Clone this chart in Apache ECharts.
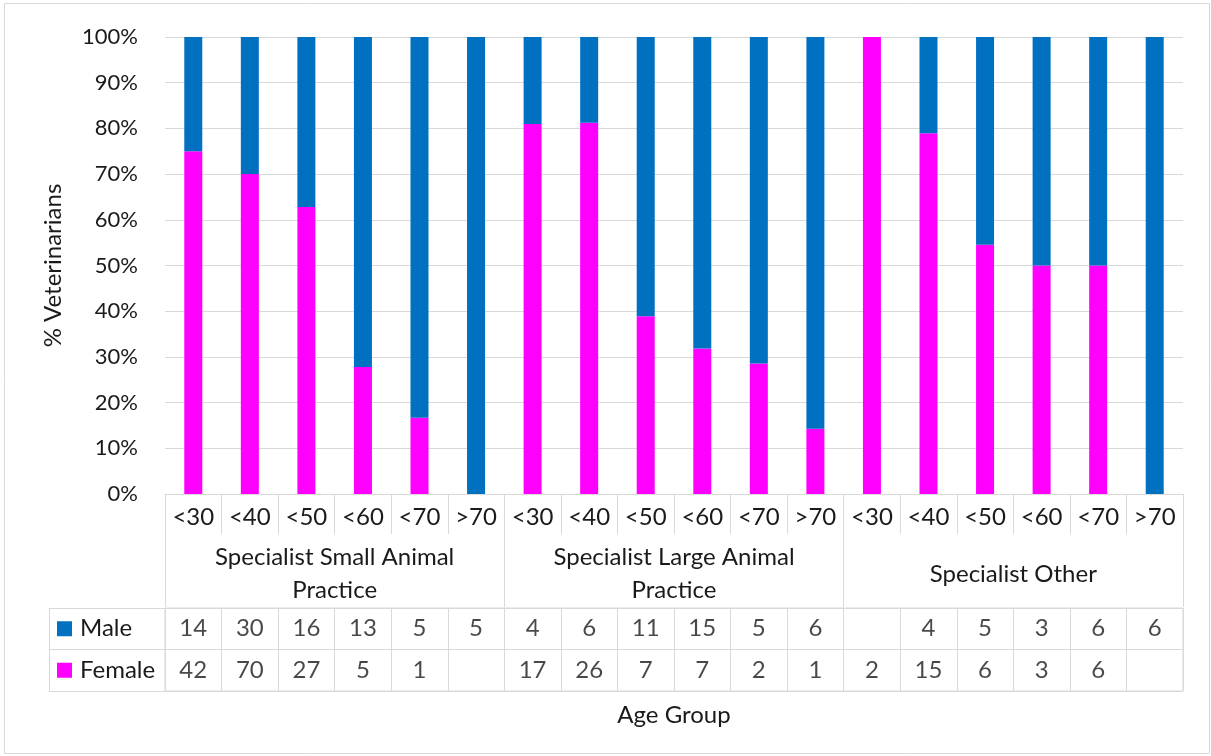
<!DOCTYPE html>
<html>
<head>
<meta charset="utf-8">
<script src="https://cdn.jsdelivr.net/npm/echarts@6/dist/echarts.min.js"></script>
<style>
  html, body { margin: 0; padding: 0; background: #fff; }
  #chart { width: 1211px; height: 756px; }
</style>
</head>
<body>
<div id="chart"></div>
<script>
// Specialist veterinarians by age group and gender
const AGE_GROUPS = ['<30', '<40', '<50', '<60', '<70', '>70'];
const SPECIALTIES = ['Specialist Small Animal\nPractice', 'Specialist Large Animal\nPractice', 'Specialist Other'];
const MALE_COUNTS   = [14, 30, 16, 13, 5, 5,   4, 6, 11, 15, 5, 6,   null, 4, 5, 3, 6, 6];
const FEMALE_COUNTS = [42, 70, 27, 5, 1, null,  17, 26, 7, 7, 2, 1,   2, 15, 6, 3, 6, null];
const ROW_NAMES = ['Male', 'Female'];
const Y_TICKS = { min: 0, max: 100, interval: 10 };

const MALE_COLOR = '#0070c0';
const FEMALE_COLOR = '#ff00ff';
const LINE = '#d9d9d9';
const TEXT = '#1a1a1a';
const FONT = 'Lato';
const FS = 24;
const FS_Y = 22;

// one category per (specialty, age) pair
const categories = [];
SPECIALTIES.forEach(() => AGE_GROUPS.forEach(a => categories.push(a)));

// 100% stacked shares
const total = (i) => (MALE_COUNTS[i] || 0) + (FEMALE_COUNTS[i] || 0);
const femalePct = FEMALE_COUNTS.map((v, i) => (v ? v / total(i) * 100 : 0));
const malePct = MALE_COUNTS.map((v, i) => (v ? v / total(i) * 100 : 0));

// table cells: [column, row, count]
const cells = [];
[MALE_COUNTS, FEMALE_COUNTS].forEach((arr, r) => {
  arr.forEach((v, i) => { if (v != null) cells.push([i, r, v]); });
});

const chart = echarts.init(document.getElementById('chart'), null, { renderer: 'canvas' });

const textStyle = { fontFamily: FONT, fontSize: FS, color: TEXT };

chart.setOption({
  animation: false,
  backgroundColor: '#fff',
  textStyle: { fontFamily: FONT },
  graphic: [{
    type: 'rect',
    shape: { x: 4.5, y: 3.5, width: 1205, height: 750 },
    style: { fill: 'none', stroke: LINE, lineWidth: 1 },
    silent: true
  }],
  grid: [
    { left: 165, right: 28, top: 37, bottom: 262, containLabel: false },
    { left: 165, right: 28, top: 608, height: 83, show: true, borderColor: LINE, borderWidth: 1, backgroundColor: 'transparent' }
  ],
  xAxis: [
    {
      gridIndex: 0, type: 'category', data: categories, position: 'bottom',
      axisLine: { show: true, lineStyle: { color: LINE, width: 1 } },
      axisTick: { show: true, interval: 0, length: 40, lineStyle: { color: LINE } },
      axisLabel: { interval: 0, margin: 23, verticalAlign: 'middle', ...textStyle }
    },
    {
      gridIndex: 0, type: 'category', data: SPECIALTIES, position: 'bottom',
      axisLine: { show: false },
      axisTick: { show: true, interval: 0, length: 113, lineStyle: { color: LINE } },
      axisLabel: { interval: 0, margin: 80, verticalAlign: 'middle', lineHeight: 33, ...textStyle }
    },
    {
      gridIndex: 1, type: 'category', data: categories, position: 'bottom',
      axisLine: { show: false }, axisTick: { show: false }, axisLabel: { show: false },
      splitLine: { show: true, interval: 0, lineStyle: { color: LINE, width: 1 } },
      name: 'Age Group', nameLocation: 'middle', nameGap: 24,
      nameTextStyle: { ...textStyle, verticalAlign: 'middle' }
    }
  ],
  yAxis: [
    {
      gridIndex: 0, type: 'value', ...Y_TICKS,
      axisLine: { show: false }, axisTick: { show: false },
      axisLabel: { formatter: '{value}%', margin: 27, ...textStyle, fontSize: FS_Y },
      splitLine: { show: true, lineStyle: { color: LINE, width: 1 } },
      name: '% Veterinarians', nameLocation: 'middle', nameGap: 100, nameRotate: 90,
      nameTextStyle: { ...textStyle }
    },
    {
      gridIndex: 1, type: 'category', data: ROW_NAMES, inverse: true, position: 'left',
      axisLine: { show: false },
      axisTick: { show: true, interval: 0, length: 116, lineStyle: { color: LINE } },
      splitLine: { show: true, interval: 0, lineStyle: { color: LINE, width: 1 } },
      axisLabel: {
        interval: 0, align: 'left', margin: 108,
        formatter: (v) => (v === 'Male' ? '{m|}{s|}{t|Male}' : '{f|}{s|}{t|Female}'),
        rich: {
          m: { width: 15, height: 15, backgroundColor: MALE_COLOR },
          f: { width: 15, height: 15, backgroundColor: FEMALE_COLOR },
          s: { width: 8 },
          t: { ...textStyle }
        }
      }
    },
    {
      gridIndex: 1, type: 'category', data: ROW_NAMES, inverse: true, position: 'left', offset: 116,
      axisLine: { show: true, lineStyle: { color: LINE, width: 1 } },
      axisTick: { show: false }, axisLabel: { show: false }, splitLine: { show: false }
    }
  ],
  series: [
    {
      name: 'Female', type: 'bar', stack: 'share', xAxisIndex: 0, yAxisIndex: 0,
      data: femalePct, barWidth: 18, itemStyle: { color: FEMALE_COLOR }
    },
    {
      name: 'Male', type: 'bar', stack: 'share', xAxisIndex: 0, yAxisIndex: 0,
      data: malePct, barWidth: 18, itemStyle: { color: MALE_COLOR }
    },
    {
      name: 'Counts', type: 'scatter', xAxisIndex: 2, yAxisIndex: 1,
      data: cells, symbolSize: 0, silent: true,
      label: { show: true, position: 'inside', formatter: (p) => String(p.value[2]), ...textStyle }
    }
  ]
});
</script>
</body>
</html>
